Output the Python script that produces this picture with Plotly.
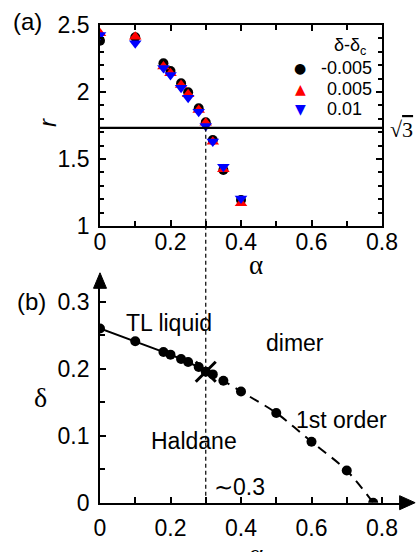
import math
import plotly.graph_objects as go

# ---------------- data ----------------
alpha_a = [0, 0.1, 0.18, 0.2, 0.23, 0.25, 0.28, 0.3, 0.32, 0.35, 0.4]
r_m005 = [2.383, 2.408, 2.214, 2.157, 2.065, 1.998, 1.878, 1.774, 1.642, 1.418, 1.194]
r_p005 = [2.438, 2.413, 2.190, 2.140, 2.052, 1.983, 1.866, 1.771, 1.629, 1.423, 1.170]
r_p01 = [2.425, 2.363, 2.180, 2.127, 2.032, 1.958, 1.853, 1.746, 1.630, 1.443, 1.206]
series_names = ["-0.005", "0.005", "0.01"]
r_ref = math.sqrt(3)

alpha_b = [0, 0.1, 0.18, 0.2, 0.23, 0.25, 0.28, 0.3, 0.32, 0.35, 0.4, 0.5, 0.6, 0.7, 0.775]
delta_b = [0.26, 0.241, 0.225, 0.221, 0.2145, 0.21, 0.2025, 0.1955, 0.1915, 0.182, 0.166, 0.134, 0.091, 0.048, 0.0]
alpha_cross = 0.3
delta_cross = 0.1955

xticks = [0, 0.2, 0.4, 0.6, 0.8]
xtick_text = ["0", "0.2", "0.4", "0.6", "0.8"]
yticks_a = [1, 1.5, 2, 2.5]
ytick_text_a = ["1", "1.5", "2", "2.5"]
yticks_b = [0, 0.1, 0.2, 0.3]
ytick_text_b = ["0", "0.1", "0.2", "0.3"]

# ---------------- layout geometry ----------------
W, H = 417, 552
def px(x):
    return x / W
def py(y):
    return 1 - y / H

xa_dom = [px(100), px(382)]
ya_dom = [py(226), py(25)]
xa_rng = [0, 0.8]
ya_rng = [1, 2.5]
xb_rng = [0, 0.85]
xb_dom = [px(100), px(100 + 0.85 * 352.5)]
yb_rng = [0, 0.32]
yb_dom = [py(502.7), py(502.7 - 0.32 * 670)]

def to_paper(v, rng, dom):
    return dom[0] + (v - rng[0]) / (rng[1] - rng[0]) * (dom[1] - dom[0])

TICKFONT = dict(family="Liberation Sans, Arial", size=23, color="black")

fig = go.Figure()

# panel (a)
fig.add_trace(go.Scatter(x=alpha_a, y=r_m005, mode="markers", name=series_names[0],
                         marker=dict(symbol="circle", size=10, color="black"),
                         xaxis="x", yaxis="y", showlegend=False))
fig.add_trace(go.Scatter(x=alpha_a, y=r_p005, mode="markers", name=series_names[1],
                         marker=dict(symbol="triangle-up", size=11, color="#ff0000"),
                         xaxis="x", yaxis="y", showlegend=False))
fig.add_trace(go.Scatter(x=alpha_a, y=r_p01, mode="markers", name=series_names[2],
                         marker=dict(symbol="triangle-down", size=11, color="#0000ff"),
                         xaxis="x", yaxis="y", showlegend=False))

# panel (b)
solid_n = alpha_b.index(alpha_cross) + 1
fig.add_trace(go.Scatter(x=alpha_b[:solid_n], y=delta_b[:solid_n], mode="lines",
                         line=dict(color="black", width=2),
                         xaxis="x2", yaxis="y2", showlegend=False))
fig.add_trace(go.Scatter(x=alpha_b[solid_n - 1:], y=delta_b[solid_n - 1:], mode="lines",
                         line=dict(color="black", width=2, dash="10px,7px", shape="spline", smoothing=0.8),
                         xaxis="x2", yaxis="y2", showlegend=False))
fig.add_trace(go.Scatter(x=alpha_b, y=delta_b, mode="markers",
                         marker=dict(symbol="circle", size=10, color="black"),
                         xaxis="x2", yaxis="y2", showlegend=False))
fig.add_trace(go.Scatter(x=[alpha_cross], y=[delta_cross], mode="markers",
                         marker=dict(symbol="x-thin", size=20, line=dict(color="black", width=3)),
                         xaxis="x2", yaxis="y2", showlegend=False))

axis_common = dict(showgrid=False, zeroline=False, showline=True, linecolor="black",
                   linewidth=1.8, ticks="inside", tickcolor="black", tickwidth=1.5,
                   ticklen=6, tickfont=TICKFONT, automargin=False)

fig.update_layout(
    width=W, height=H,
    margin=dict(l=0, r=0, t=0, b=0, pad=0, autoexpand=False),
    paper_bgcolor="white", plot_bgcolor="white",
    xaxis=dict(domain=xa_dom, range=xa_rng, tickvals=xticks, ticktext=xtick_text,
               mirror="allticks", anchor="y", ticklabelstandoff=-6,
               minor=dict(dtick=0.1, ticks="inside", ticklen=5, tickcolor="black", tickwidth=1.5),
               **axis_common),
    yaxis=dict(domain=ya_dom, range=ya_rng, tickvals=yticks_a, ticktext=ytick_text_a,
               mirror="allticks", anchor="x", ticklabelstandoff=4,
               minor=dict(dtick=0.1, ticks="inside", ticklen=4, tickcolor="black", tickwidth=1.5),
               **axis_common),
    xaxis2=dict(domain=xb_dom, range=xb_rng, tickvals=xticks, ticktext=xtick_text,
                anchor="y2", ticklabelstandoff=4,
                minor=dict(dtick=0.1, ticks="inside", ticklen=6, tickcolor="black", tickwidth=1.5),
                **axis_common),
    yaxis2=dict(domain=yb_dom, range=yb_rng, tickvals=yticks_b, ticktext=ytick_text_b,
                anchor="x2", ticklabelstandoff=4,
                minor=dict(dtick=0.05, ticks="inside", ticklen=5, tickcolor="black", tickwidth=1.5),
                **axis_common),
)

shapes = []
# sqrt(3) line
shapes.append(dict(type="line", xref="x domain", yref="y", x0=0, x1=1, y0=r_ref, y1=r_ref,
                   line=dict(color="black", width=2.2)))
# dashed vertical at alpha ~ 0.3 from panel (a) down to delta = 0 in panel (b)
xv = to_paper(alpha_cross, xa_rng, xa_dom)
shapes.append(dict(type="line", xref="paper", yref="paper", x0=xv, x1=xv,
                   y0=to_paper(0, yb_rng, yb_dom), y1=to_paper(r_ref, ya_rng, ya_dom),
                   line=dict(color="black", width=1.2, dash="4px,3px")))
# arrow heads for panel (b)
yx0 = to_paper(0, xb_rng, xb_dom)
ytop = yb_dom[1]
shapes.append(dict(type="path", xref="paper", yref="paper",
                   path=f"M {yx0 - px(6.5)} {ytop} L {yx0 + px(6.5)} {ytop} L {yx0} {ytop + 15.5 / H} Z",
                   fillcolor="black", line=dict(color="black", width=1)))
xright = xb_dom[1]
y0b = yb_dom[0]
shapes.append(dict(type="path", xref="paper", yref="paper",
                   path=f"M {xright} {y0b + 7 / H} L {xright} {y0b - 7 / H} L {xright + px(15.5)} {y0b} Z",
                   fillcolor="black", line=dict(color="black", width=1)))
fig.update_layout(shapes=shapes)

ann = []
def add_text(text, x, y, size=23, family="Liberation Sans, Arial", xref="paper", yref="paper",
             color="black", xanchor="center", yanchor="middle", textangle=0):
    ann.append(dict(text=text, x=x, y=y, xref=xref, yref=yref, showarrow=False,
                    font=dict(family=family, size=size, color=color), borderpad=0,
                    xanchor=xanchor, yanchor=yanchor, textangle=textangle))

add_text("(a)", px(27.5), py(21.5), size=24)
add_text("(b)", px(31.5), py(301), size=24)
add_text("α", px(256), py(265), size=27, family="Liberation Serif")
add_text("α", px(256), py(554), size=27, family="Liberation Serif")
add_text("<i>r</i>", px(47), py(123), size=24, textangle=-90)
add_text("δ", px(40), py(397), size=28, family="Liberation Serif")
add_text("√<span style='text-decoration:overline'>3</span>", px(401), py(130), size=22,
         family="Liberation Serif")

# legend (panel a)
add_text("δ-δ<sub>c</sub>", px(350), py(46.5), size=18)
legend_marks = ["●", "▲", "▼"]
legend_colors = ["black", "#ff0000", "#0000ff"]
legend_y = [68, 88.5, 109]
legend_x = [320, 326, 326]
for mk, col, yy, xx, nm in zip(legend_marks, legend_colors, legend_y, legend_x, series_names):
    add_text(mk, px(300), py(yy), size=14, family="DejaVu Sans", color=col)
    add_text(nm, px(xx), py(yy), size=18, xanchor="left")

# region labels (panel b) in data coordinates
add_text("TL liquid", 0.196, 0.268, xref="x2", yref="y2")
add_text("dimer", 0.553, 0.238, xref="x2", yref="y2")
add_text("1st order", 0.685, 0.123, xref="x2", yref="y2")
add_text("Haldane", 0.267, 0.0925, xref="x2", yref="y2")
add_text("∼0.3", 0.396, 0.024, xref="x2", yref="y2")

fig.update_layout(annotations=ann)
fig.write_html("out.html", config={"displayModeBar": False},
               post_script="document.body.style.margin='0';document.body.style.overflow='hidden';")
